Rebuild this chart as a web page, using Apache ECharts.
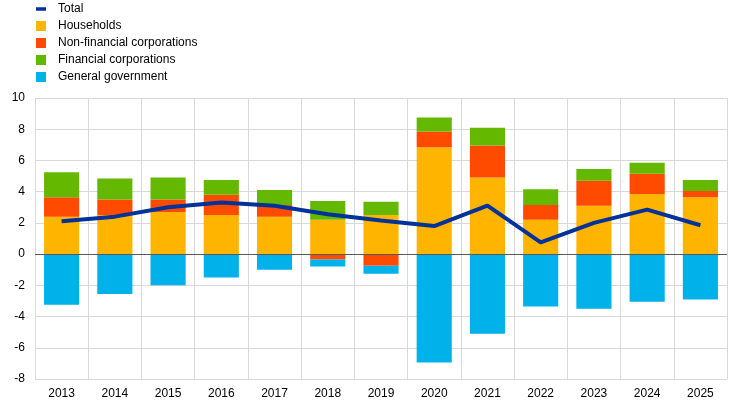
<!DOCTYPE html>
<html>
<head>
<meta charset="utf-8">
<script src="https://cdn.jsdelivr.net/npm/echarts@6/dist/echarts.min.js"></script>
<style>
  html, body { margin: 0; padding: 0; background: #fff; }
  #chart { width: 744px; height: 406px; }
</style>
</head>
<body>
<div id="chart"></div>
<script>
const years = ['2013', '2014', '2015', '2016', '2017', '2018', '2019', '2020', '2021', '2022', '2023', '2024', '2025'];
const households = [2.4, 2.5, 2.7, 2.5, 2.4, 2.2, 2.5, 6.85, 4.9, 2.2, 3.1, 3.85, 3.65];
const nonFinCorps = [1.25, 1.0, 0.8, 1.3, 0.75, -0.35, -0.75, 1.0, 2.05, 0.95, 1.6, 1.3, 0.4];
const finCorps = [1.6, 1.35, 1.4, 0.95, 0.95, 1.2, 0.85, 0.9, 1.15, 1.0, 0.75, 0.7, 0.7];
const generalGov = [-3.25, -2.55, -2.0, -1.5, -1.0, -0.45, -0.5, -6.95, -5.1, -3.35, -3.5, -3.05, -2.9];
const total = [2.1, 2.4, 3.0, 3.3, 3.1, 2.55, 2.15, 1.8, 3.1, 0.75, 2.0, 2.85, 1.85];

const font = 'Arial, "Liberation Sans", sans-serif';
const chart = echarts.init(document.getElementById('chart'));

const bar = (name, data, color) => ({
  name, type: 'bar', stack: 'all', data, barWidth: '66%',
  itemStyle: { color }, emphasis: { disabled: true }
});

chart.setOption({
  animation: false,
  textStyle: { fontFamily: font },
  legend: {
    orient: 'vertical', left: 36, top: 3, padding: 0,
    itemWidth: 10, itemHeight: 10, itemGap: 5,
    textStyle: { fontSize: 12, color: '#000', fontFamily: font, padding: [0, 0, 0, 7] },
    data: [
      { name: 'Total', icon: 'path://M0,0H10V3.5H0Z' },
      { name: 'Households', icon: 'rect' },
      { name: 'Non-financial corporations', icon: 'rect' },
      { name: 'Financial corporations', icon: 'rect' },
      { name: 'General government', icon: 'rect' }
    ],
    selectedMode: false
  },
  grid: { left: 35, right: 17, top: 98, bottom: 27 },
  xAxis: {
    type: 'category', data: years,
    axisLine: { show: false }, axisTick: { show: false },
    axisLabel: { fontSize: 12, color: '#000', margin: 9, fontFamily: font },
    splitLine: { show: true, lineStyle: { color: '#d9d9d9', width: 1 } }
  },
  yAxis: {
    type: 'value', min: -8, max: 10, interval: 2,
    axisLine: { show: false }, axisTick: { show: false },
    axisLabel: { fontSize: 12, color: '#000', margin: 10, fontFamily: font },
    splitLine: { lineStyle: { color: '#d9d9d9', width: 1 } }
  },
  series: [
    bar('Households', households, '#ffb400'),
    bar('Non-financial corporations', nonFinCorps, '#ff4b00'),
    bar('Financial corporations', finCorps, '#65b800'),
    bar('General government', generalGov, '#00b1ea'),
    {
      name: 'Total', type: 'line', data: total, symbol: 'none', z: 5,
      lineStyle: { color: '#003299', width: 4 }, itemStyle: { color: '#003299' },
      markLine: {
        silent: true, symbol: 'none', label: { show: false },
        lineStyle: { color: '#595959', width: 1, type: 'solid' },
        data: [{ yAxis: 0 }]
      }
    }
  ]
});
</script>
</body>
</html>
